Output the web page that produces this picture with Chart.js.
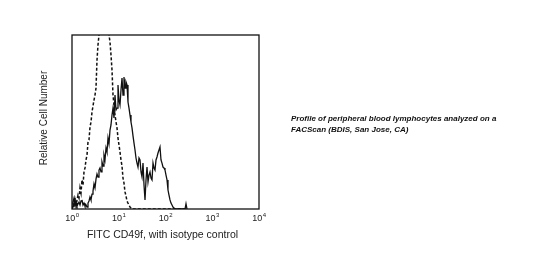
<!DOCTYPE html>
<html>
<head>
<meta charset="utf-8">
<script src="https://cdn.jsdelivr.net/npm/chart.js@4/dist/chart.umd.min.js"></script>
<style>
  body { margin: 0; background: #fff; }
  #wrap { position: relative; width: 548px; height: 274px; }
  #note {
    position: absolute; left: 291px; top: 113px;
    font: italic bold 8px "Liberation Sans", Arial, sans-serif;
    line-height: 11px; color: #111; white-space: nowrap;
  }
</style>
</head>
<body>
<div id="wrap">
  <canvas id="histChart" width="548" height="274"></canvas>
  <div id="note">Profile of peripheral blood lymphocytes analyzed on a<br>FACScan (BDIS, San Jose, CA)</div>
</div>
<script>
// fluorescence channel values (log scale, 10^0 .. 10^4)
const fluor = [
  1.000, 1.050, 1.104, 1.159, 1.218, 1.279, 1.344, 1.412, 1.483, 1.558,
  1.636, 1.719, 1.806, 1.897, 1.993, 2.094, 2.199, 2.310, 2.427, 2.549,
  2.678, 2.813, 2.955, 3.104, 3.261, 3.426, 3.599, 3.780, 3.971, 4.172,
  4.382, 4.604, 4.836, 5.080, 5.337, 5.606, 5.889, 6.187, 6.499, 6.827,
  7.172, 7.534, 7.914, 8.314, 8.734, 9.175, 9.637, 10.12, 10.63, 11.17,
  11.74, 12.33, 12.95, 13.61, 14.29, 15.02, 15.77, 16.57, 17.41, 18.28,
  19.21, 20.18, 21.20, 22.27, 23.39, 24.57, 25.81, 27.12, 28.49, 29.92,
  31.43, 33.02, 34.69, 36.44, 38.28, 40.21, 42.24, 44.37, 46.61, 48.97,
  51.44, 54.04, 56.76, 59.63, 62.64, 65.80, 69.12, 72.61, 76.28, 80.13,
  84.17, 88.42, 92.88, 97.56, 102.5, 107.7, 113.1, 118.8, 124.8, 131.1,
  137.7, 144.7, 152.0, 159.7, 167.7, 176.2, 185.1, 194.4, 204.2, 214.5,
  225.4, 236.8, 248.7, 261.3, 274.5, 288.4
];

// isotype control (dashed)
const isotype = [
  0, 2.9, 1.1, 5.2, 1.7, 5.2, 8.0, 6.3, 12.1, 9.2,
  16.7, 13.8, 21.3, 23.6, 28.2, 31.0, 38.5, 39.7, 47.1, 50.0,
  55.7, 59.2, 62.6, 65.5, 69.5, 85.6, 94.3, 100.0, 103.1, 108.6,
  102.9, 114.4, 105.7, 111.5, 104.0, 108.6, 102.9, 100.0, 96.0, 88.5,
  79.9, 65.5, 59.8, 54.0, 50.0, 46.6, 40.8, 36.8, 32.8, 28.2,
  24.7, 17.8, 14.9, 9.8, 7.5, 4.6, 3.4, 2.3, 1.1, 0.6,
  0, 0, 0, 0, 0, 0, 0, 0, 0, 0,
  0, 0, 0, 0, 0, 0, 0, 0, 0, 0,
  0, 0, 0, 0, 0, 0, 0, 0, 0, 0,
  0, 0, 0, 0, 0, 0, 0, 0, 0, 0,
  0, 0, 0, 0, 0, 0, 0, 0, 0, 0,
  0, 0, 0, 0, 0, 0
];

// FITC CD49f (solid)
const cd49f = [
  1.1, 4.0, 6.3, 2.3, 3.4, 1.7, 2.9, 4.0, 2.3, 4.6,
  5.2, 2.3, 3.4, 1.7, 2.3, 1.1, 3.4, 4.6, 6.9, 5.2,
  8.6, 10.3, 14.4, 12.1, 17.2, 20.1, 18.4, 22.4, 23.6, 21.3,
  27.0, 24.7, 31.0, 28.2, 35.1, 32.8, 40.8, 37.4, 45.4, 48.3,
  54.0, 58.0, 52.3, 65.5, 56.9, 58.0, 71.3, 62.6, 59.8, 68.4,
  75.3, 65.5, 75.9, 69.5, 73.0, 71.3, 61.5, 58.0, 54.0, 50.0,
  46.6, 42.0, 37.9, 33.9, 29.3, 26.4, 24.1, 29.3, 28.2, 21.3,
  18.4, 26.4, 13.8, 5.2, 16.7, 24.1, 15.5, 19.5, 21.3, 17.8,
  16.7, 26.4, 23.6, 22.4, 28.2, 29.9, 32.2, 33.9, 35.6, 28.2,
  26.4, 24.1, 23.6, 22.4, 19.5, 16.7, 10.9, 8.0, 5.2, 3.4,
  2.3, 1.1, 0.6, 0, 0, 0, 0, 0, 0, 0,
  0, 0, 0, 0, 3.0, 0
];

const tickValues = [1, 10, 100, 1000, 10000];
const tickExponents = ['0', '1', '2', '3', '4'];

const FONT = '"Liberation Sans", Arial, sans-serif';

const decor = {
  id: 'decor',
  afterDraw(chart) {
    const { ctx, chartArea: a, scales } = chart;
    ctx.save();
    // frame
    ctx.strokeStyle = '#111';
    ctx.lineWidth = 1.3;
    ctx.strokeRect(a.left, a.top, a.right - a.left, a.bottom - a.top);

    // x tick labels 10^n
    ctx.fillStyle = '#222';
    ctx.textBaseline = 'alphabetic';
    tickValues.forEach((v, i) => {
      const x = scales.x.getPixelForValue(v);
      ctx.font = '9px ' + FONT;
      const w1 = ctx.measureText('10').width;
      ctx.font = '6px ' + FONT;
      const w2 = ctx.measureText(tickExponents[i]).width;
      const x0 = x - (w1 + w2) / 2;
      ctx.font = '9px ' + FONT;
      ctx.textAlign = 'left';
      ctx.fillText('10', x0, a.bottom + 12);
      ctx.font = '6px ' + FONT;
      ctx.fillText(tickExponents[i], x0 + w1 + 0.5, a.bottom + 8);
    });

    // axis titles
    ctx.font = '10.5px ' + FONT;
    ctx.textAlign = 'center';
    ctx.fillText('FITC CD49f, with isotype control', (a.left + a.right) / 2 - 3, a.bottom + 29);
    ctx.font = '10px ' + FONT;
    ctx.translate(a.left - 25, (a.top + a.bottom) / 2 - 4);
    ctx.rotate(-Math.PI / 2);
    ctx.fillText('Relative Cell Number', 0, 0);
    ctx.restore();
  }
};

new Chart(document.getElementById('histChart'), {
  type: 'line',
  data: {
    datasets: [
      {
        label: 'Isotype control',
        data: fluor.map((x, i) => ({ x, y: isotype[i] })),
        borderColor: '#111',
        borderWidth: 1.5,
        borderDash: [3, 2],
        pointRadius: 0,
        tension: 0,
        clip: 0
      },
      {
        label: 'FITC CD49f',
        data: fluor.map((x, i) => ({ x, y: cd49f[i] })),
        borderColor: '#111',
        borderWidth: 1.3,
        pointRadius: 0,
        tension: 0,
        clip: 0
      }
    ]
  },
  options: {
    responsive: false,
    animation: false,
    layout: { padding: { left: 72, top: 35, right: 289, bottom: 65 } },
    plugins: { legend: { display: false }, tooltip: { enabled: false } },
    scales: {
      x: { type: 'logarithmic', min: 1, max: 10000, display: false },
      y: { type: 'linear', min: 0, max: 100, display: false }
    }
  },
  plugins: [decor]
});
</script>
</body>
</html>
